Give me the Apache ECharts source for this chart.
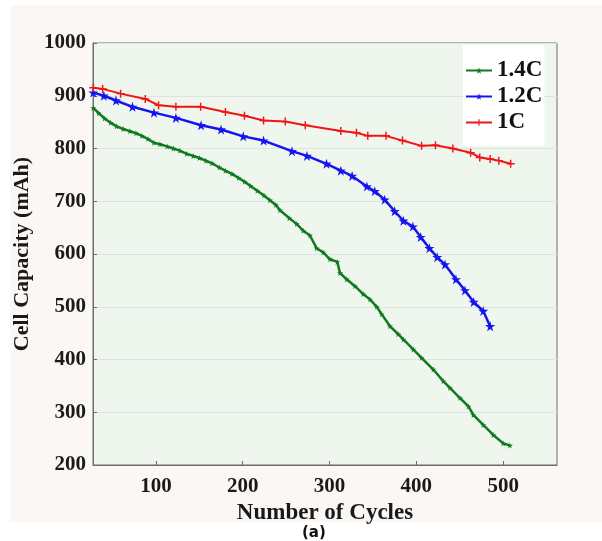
<!DOCTYPE html>
<html>
<head>
<meta charset="utf-8">
<script src="https://cdn.jsdelivr.net/npm/echarts@6/dist/echarts.min.js"></script>
<style>html,body{margin:0;padding:0;background:#fff}#c{width:602px;height:541px}</style>
</head>
<body>
<div id="c"></div>
<script>
// ---- data ----
const xTicks = [100, 200, 300, 400, 500];
const yTicks = [200, 300, 400, 500, 600, 700, 800, 900, 1000];

const c1x = [27.8, 38.6, 59.3, 87.7, 103, 123, 151.5, 180, 202, 224, 249, 272, 313, 331, 344, 365, 384, 406, 422, 442, 462.5, 473, 485, 495, 508.6];
const c1y = [915, 913, 904, 894, 882, 879, 879, 869, 862, 853, 851, 844, 833, 830, 824, 824, 815, 805, 806, 800, 792, 783, 780, 777, 771];

const c12x = [27.8, 40, 54, 73, 97.7, 123, 152, 175, 200.6, 224, 256.7, 274, 296.5, 313, 326, 343, 352, 363.5, 375, 385, 396, 405, 415, 424, 433, 445.6, 456, 466, 477, 485];
const c12y = [906, 900, 891, 879, 868, 858, 844, 836, 823, 815, 795, 786, 771, 758, 748, 728, 719, 703, 681, 663, 652, 632, 611, 594, 580, 552, 531, 509, 492, 463];

const c14x = [27.8, 34, 40.9, 47.8, 54.7, 62.3, 70, 77, 83.9, 90.8, 97.7, 104.6, 113, 120, 127.6, 135.4, 143, 150, 157.6, 164.5, 173, 180, 187.6, 195.3, 202.2, 209, 216.7, 224.4, 231.3, 238.2, 242.9, 253.6, 262.1, 269.7, 277.4, 285.1, 292.7, 300.5, 308.9, 312, 319.7, 329.3, 338.8, 346.5, 354.3, 360, 369.6, 379.1, 385, 396.4, 406, 419.5, 431, 438.7, 450.2, 460, 465.6, 477, 488.6, 500.1, 507.8];
const c14y = [877, 867, 857, 849, 842, 837, 833, 829, 824, 818, 811, 808, 804, 800, 796, 790, 786, 782, 777, 772, 764, 758, 752, 744, 737, 729, 720, 711, 702, 693, 683, 668, 657, 644, 635, 611, 603, 590, 585, 564, 552, 539, 524, 514, 500, 486, 463, 448, 438, 419, 403, 381, 359, 346, 327, 311, 295, 276, 257, 241, 237];

const seriesNames = ['1.4C', '1.2C', '1C'];

// ---- build ----
const zip = (xs, ys) => xs.map((x, i) => [x, ys[i]]);
const STAR = 'path://M0,-1 L0.2245,-0.309 L0.951,-0.309 L0.363,0.118 L0.588,0.809 L0,0.382 L-0.588,0.809 L-0.363,0.118 L-0.951,-0.309 L-0.2245,-0.309Z';
const PLUS = 'path://M-1,-0.18 H1 V0.18 H-1 Z M-0.18,-1 H0.18 V1 H-0.18 Z';
const SERIF = '"Liberation Serif", "Times New Roman", serif';

const chart = echarts.init(document.getElementById('c'), null, {renderer: 'canvas'});
chart.setOption({
  animation: false,
  backgroundColor: '#ffffff',
  graphic: [
    {type: 'rect', left: 10, top: 5, shape: {width: 592, height: 517}, style: {fill: '#fbf7f4'}, z: -10, silent: true}
  ],
  grid: {left: 93, top: 43, width: 464, height: 422, backgroundColor: '#eef6ee', show: true, borderColor: '#6e6e6e', borderWidth: 1},
  legend: {
    data: seriesNames,
    orient: 'vertical',
    left: 463, top: 45,
    backgroundColor: '#ffffff',
    padding: [14, 2, 12, 2],
    itemWidth: 26, itemHeight: 8,
    itemGap: 3,
    textStyle: {fontFamily: SERIF, fontWeight: 'bold', fontSize: 23, color: '#111'}
  },
  xAxis: {
    type: 'value', min: 27.5, max: 562,
    axisLine: {show: true, lineStyle: {color: '#6e6e6e', width: 1}},
    axisTick: {show: true, inside: true, length: 4, customValues: xTicks, lineStyle: {color: '#6e6e6e'}},
    axisLabel: {customValues: xTicks, margin: 11, fontFamily: SERIF, fontWeight: 'bold', fontSize: 21, color: '#1a1a1a'},
    splitLine: {show: false},
    name: 'Number of Cycles', nameLocation: 'middle', nameGap: 37,
    nameTextStyle: {fontFamily: SERIF, fontWeight: 'bold', fontSize: 23, color: '#1a1a1a'}
  },
  yAxis: {
    type: 'value', min: 200, max: 1000, interval: 100,
    axisLine: {show: true, lineStyle: {color: '#6e6e6e', width: 1}},
    axisTick: {show: true, inside: true, length: 4, lineStyle: {color: '#6e6e6e'}},
    axisLabel: {margin: 7, fontFamily: SERIF, fontWeight: 'bold', fontSize: 21, color: '#1a1a1a',
      formatter: v => String(v)},
    splitLine: {show: true, lineStyle: {color: '#dde4dd', width: 1}},
    name: 'Cell Capacity (mAh)', nameLocation: 'middle', nameGap: 58,
    nameTextStyle: {fontFamily: SERIF, fontWeight: 'bold', fontSize: 22, color: '#1a1a1a'}
  },
  series: [
    {name: seriesNames[0], type: 'line', data: zip(c14x, c14y), color: '#127a1e', symbol: STAR, symbolSize: 6,
     lineStyle: {width: 2.5}, itemStyle: {color: '#127a1e'}},
    {name: seriesNames[1], type: 'line', data: zip(c12x, c12y), color: '#1414f0', symbol: STAR, symbolSize: 10,
     lineStyle: {width: 2.5}, itemStyle: {color: '#1414f0'}},
    {name: seriesNames[2], type: 'line', data: zip(c1x, c1y), color: '#f21414', symbol: PLUS, symbolSize: 8,
     lineStyle: {width: 2}, itemStyle: {color: '#f21414'}}
  ],
  title: {text: '(a)', left: 302, top: 526, padding: 0,
    textStyle: {fontFamily: '"DejaVu Sans", sans-serif', fontWeight: 'bold', fontSize: 15, color: '#111'}}
});
</script>
</body>
</html>
